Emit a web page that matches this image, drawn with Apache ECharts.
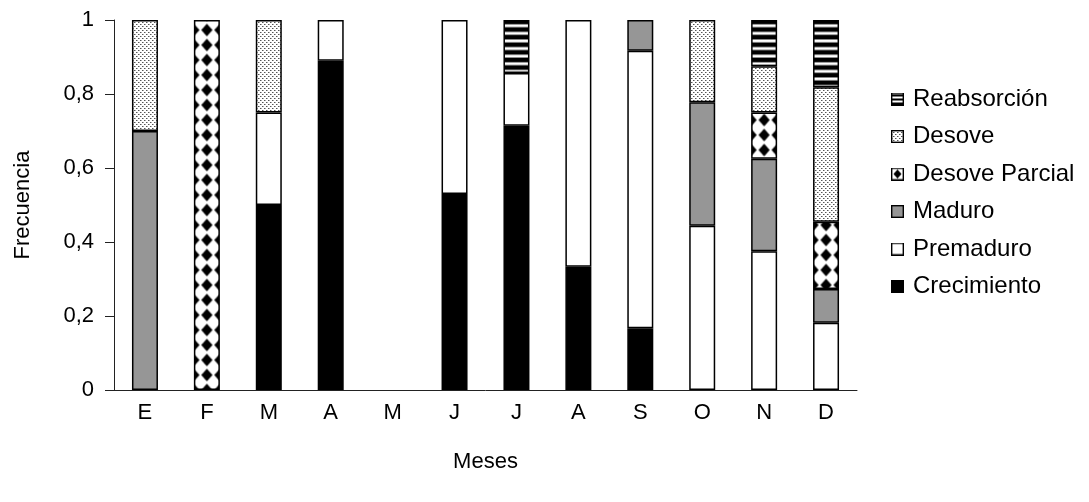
<!DOCTYPE html>
<html>
<head>
<meta charset="utf-8">
<title>Frecuencia de estadios por mes</title>
<script src="https://cdn.jsdelivr.net/npm/echarts@6/dist/echarts.min.js"></script>
<style>
  html, body { margin: 0; padding: 0; background: #fff; }
  #chart { width: 1089px; height: 502px; }
</style>
</head>
<body>
<div id="chart"></div>
<script>
// Months (Spanish initials)
const months = ['E', 'F', 'M', 'A', 'M', 'J', 'J', 'A', 'S', 'O', 'N', 'D'];

// Relative frequency of each gonadal stage per month (null = absent)
const crecimiento   = [null, null, 0.5,  0.89, null, 0.53, 0.714, 0.333, 0.167, null,  null,  null];
const premaduro     = [null, null, 0.25, 0.11, null, 0.47, 0.143, 0.667, 0.75,  0.444, 0.375, 0.182];
const maduro        = [0.7,  null, null, null, null, null, null,  null,  0.083, 0.334, 0.25,  0.091];
const desoveParcial = [null, 1,    null, null, null, null, null,  null,  null,  null,  0.125, 0.182];
const desove        = [0.3,  null, 0.25, null, null, null, null,  null,  null,  0.222, 0.125, 0.363];
const reabsorcion   = [null, null, null, null, null, null, 0.143, null,  null,  null,  0.125, 0.182];

// Y axis ticks
const yTicks = [0, 0.2, 0.4, 0.6, 0.8, 1];

const FONT = 'Liberation Sans, Arial, sans-serif';
const GRAY = '#969696';

function makeCanvas(w, h, draw) {
  const c = document.createElement('canvas');
  c.width = w; c.height = h;
  const ctx = c.getContext('2d');
  draw(ctx, w, h);
  return c;
}

function diamond(ctx, cx, cy, rx, ry) {
  ctx.beginPath();
  ctx.moveTo(cx, cy - ry);
  ctx.lineTo(cx + rx, cy);
  ctx.lineTo(cx, cy + ry);
  ctx.lineTo(cx - rx, cy);
  ctx.closePath();
  ctx.fill();
}

// Fine dot stipple (Desove)
const dotTile = makeCanvas(4, 4, (ctx) => {
  ctx.fillStyle = '#fff'; ctx.fillRect(0, 0, 4, 4);
  ctx.fillStyle = '#555';
  ctx.fillRect(0, 0, 1, 1);
  ctx.fillRect(2, 2, 1, 1);
  ctx.fillStyle = '#aaa';
  ctx.fillRect(1, 0, 1, 1);
  ctx.fillRect(3, 2, 1, 1);
});

// Horizontal stripes (Reabsorción)
const stripeTile = makeCanvas(2, 8, (ctx) => {
  ctx.fillStyle = '#000'; ctx.fillRect(0, 0, 2, 4);
  ctx.fillStyle = '#888'; ctx.fillRect(0, 4, 2, 1);
  ctx.fillStyle = '#fff'; ctx.fillRect(0, 5, 2, 2);
  ctx.fillStyle = '#888'; ctx.fillRect(0, 7, 2, 1);
});

// Diamond grid (Desove Parcial): one black diamond per cell
const diamondTile = makeCanvas(13, 15, (ctx, w, h) => {
  ctx.fillStyle = '#fff'; ctx.fillRect(0, 0, w, h);
  ctx.fillStyle = '#000';
  diamond(ctx, w / 2, h / 2, 5.6, 6.2);
});

// Legend icons: a 13px framed swatch
function legendIcon(fill) {
  const c = makeCanvas(13, 13, (ctx) => {
    ctx.save();
    ctx.beginPath(); ctx.rect(0, 0, 13, 13); ctx.clip();
    fill(ctx);
    ctx.restore();
    ctx.strokeStyle = '#000'; ctx.lineWidth = 1.4;
    ctx.strokeRect(0.7, 0.7, 11.6, 11.6);
  });
  return 'image://' + c.toDataURL();
}

const icons = {
  'Reabsorción': legendIcon((ctx) => {
    ctx.fillStyle = '#fff'; ctx.fillRect(0, 0, 13, 13);
    ctx.fillStyle = '#000';
    ctx.fillRect(0, 2, 13, 2); ctx.fillRect(0, 6, 13, 2); ctx.fillRect(0, 10, 13, 2);
  }),
  'Desove': legendIcon((ctx) => {
    ctx.fillStyle = ctx.createPattern(dotTile, 'repeat'); ctx.fillRect(0, 0, 13, 13);
  }),
  'Desove Parcial': legendIcon((ctx) => {
    ctx.fillStyle = '#fff'; ctx.fillRect(0, 0, 13, 13);
    ctx.fillStyle = '#000'; diamond(ctx, 6.5, 6.5, 4, 4.5);
  }),
  'Maduro': legendIcon((ctx) => { ctx.fillStyle = GRAY; ctx.fillRect(0, 0, 13, 13); }),
  'Premaduro': legendIcon((ctx) => { ctx.fillStyle = '#fff'; ctx.fillRect(0, 0, 13, 13); }),
  'Crecimiento': legendIcon((ctx) => { ctx.fillStyle = '#000'; ctx.fillRect(0, 0, 13, 13); })
};

const chart = echarts.init(document.getElementById('chart'), null, { renderer: 'canvas' });

const border = { borderColor: '#000', borderWidth: 1.5 };

function stage(name, data, color) {
  return {
    name, type: 'bar', stack: 'total', data,
    barWidth: 26,
    itemStyle: Object.assign({ color }, border),
    emphasis: { disabled: true },
    animation: false
  };
}

const legendOrder = ['Reabsorción', 'Desove', 'Desove Parcial', 'Maduro', 'Premaduro', 'Crecimiento'];

const baseOption = {
  animation: false,
  grid: { left: 114, right: 232, top: 20, bottom: 112, containLabel: false },
  legend: {
    orient: 'vertical',
    left: 886, top: 82,
    itemWidth: 13, itemHeight: 13,
    itemGap: 13.5,
    selectedMode: false,
    textStyle: { fontFamily: FONT, fontSize: 24, color: '#000', padding: [0, 0, 0, 4] },
    data: legendOrder.map(n => ({ name: n, icon: icons[n] }))
  },
  xAxis: {
    type: 'category',
    data: months,
    name: 'Meses',
    nameLocation: 'middle',
    nameGap: 61,
    nameTextStyle: { fontFamily: FONT, fontSize: 22, color: '#000' },
    axisLine: { lineStyle: { color: '#222', width: 1 } },
    axisTick: { length: 9, lineStyle: { color: '#222' } },
    axisLabel: { fontFamily: FONT, fontSize: 22, color: '#000', margin: 12 },
    splitLine: { show: false }
  },
  yAxis: {
    type: 'value',
    min: 0, max: 1, interval: 0.2,
    name: 'Frecuencia',
    nameLocation: 'middle',
    nameGap: 80,
    nameTextStyle: { fontFamily: FONT, fontSize: 22, color: '#000' },
    axisLine: { show: true, lineStyle: { color: '#222', width: 1 } },
    axisTick: { show: true, length: 9, lineStyle: { color: '#222' } },
    axisLabel: {
      fontFamily: FONT, fontSize: 22, color: '#000', margin: 20,
      formatter: (v) => {
        const t = yTicks.find(x => Math.abs(x - v) < 1e-9);
        return String(t !== undefined ? t : v).replace('.', ',');
      }
    },
    splitLine: { show: false }
  },
  series: [
    stage('Crecimiento', crecimiento, '#000'),
    stage('Premaduro', premaduro, '#fff'),
    stage('Maduro', maduro, GRAY),
    stage('Desove Parcial', desoveParcial, '#fff'),
    stage('Desove', desove, '#fff'),
    stage('Reabsorción', reabsorcion, '#fff')
  ]
};

chart.setOption(baseOption);

// Patterned fills are anchored to each bar so the motif sits the same way in every column
const topY = chart.convertToPixel({ yAxisIndex: 0 }, 1);
function patterned(values, tile, opts) {
  return values.map((v, i) => {
    if (v == null) return null;
    const cx = chart.convertToPixel({ xAxisIndex: 0 }, i);
    return {
      value: v,
      itemStyle: {
        color: Object.assign({ image: tile, repeat: 'repeat' }, opts(cx))
      }
    };
  });
}

chart.setOption({
  series: [
    {}, {}, {},
    { data: patterned(desoveParcial, diamondTile, (cx) => ({ x: cx - 6.5, y: topY + 2.5 })) },
    { data: patterned(desove, dotTile, (cx) => ({ x: Math.round(cx) - 13, y: 0 })) },
    { data: patterned(reabsorcion, stripeTile, () => ({ x: 0, y: topY, scaleY: 7.6 / 8 })) }
  ]
});
</script>
</body>
</html>
